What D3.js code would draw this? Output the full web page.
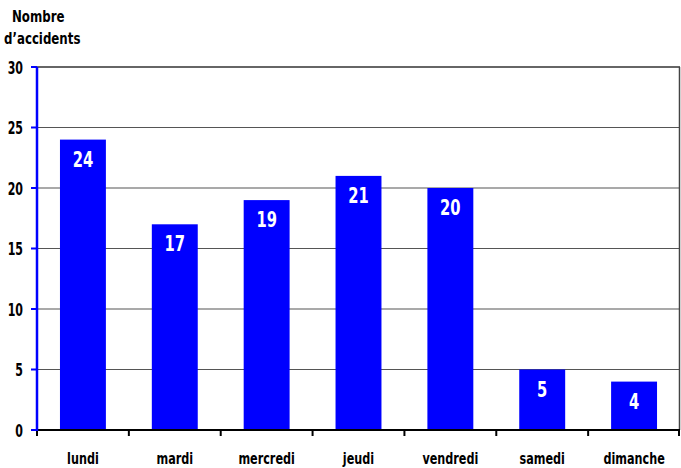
<!DOCTYPE html>
<html><head><meta charset="utf-8">
<script src="https://cdn.jsdelivr.net/npm/d3@7"></script>
<style>
body{margin:0;background:#fff;}
text{font-family:"DejaVu Sans Condensed","DejaVu Sans",sans-serif;font-weight:bold;}
</style></head>
<body><svg id="c" width="681" height="468"></svg>
<script>
const categories = ["lundi","mardi","mercredi","jeudi","vendredi","samedi","dimanche"];
const values = [24,17,19,21,20,5,4];
const yTicks = [0,5,10,15,20,25,30];
const yTitle = ["Nombre","d\u2019accidents"];

const svg = d3.select("#c");
const m = {l:37, r:680, t:67, b:430};
const x = d3.scaleBand().domain(categories).range([m.l, m.r]).paddingInner(0.5).paddingOuter(0.25);
const xb = d3.scaleBand().domain(categories).range([m.l, m.r]);
const y = d3.scaleLinear().domain([0,30]).range([m.b, m.t]);
const blue = "#0000ff";
const tr = (px,py,s)=>`translate(${px},${py}) scale(${s},1)`;

// gridlines
svg.append("g").selectAll("line").data(yTicks.filter(d=>d>0)).join("line")
  .attr("x1", m.l).attr("x2", m.r).attr("y1", d=>y(d)).attr("y2", d=>y(d))
  .attr("stroke",d=>d===30?"#333":"#555").attr("stroke-width",d=>d===30?1.6:1.2);
// right border
svg.append("line").attr("x1",m.r-0.5).attr("x2",m.r-0.5).attr("y1",m.t).attr("y2",m.b)
  .attr("stroke","#444").attr("stroke-width",1.5);

// bars
svg.append("g").selectAll("rect").data(values).join("rect")
  .attr("x",(d,i)=>x(categories[i])).attr("width",x.bandwidth())
  .attr("y",d=>y(d)).attr("height",d=>m.b-y(d)).attr("fill",blue);

// value labels
svg.append("g").selectAll("text").data(values).join("text")
  .attr("transform",(d,i)=>tr(x(categories[i])+x.bandwidth()/2, y(d)+27, 0.78))
  .attr("text-anchor","middle").attr("fill","#fff").attr("font-size",21)
  .text(d=>d);

// x axis
const xAxis = svg.append("g");
xAxis.append("line").attr("x1",m.l).attr("x2",m.r).attr("y1",m.b).attr("y2",m.b)
  .attr("stroke","#000").attr("stroke-width",2);
const bounds = categories.map(c=>xb(c)).concat([m.r]);
xAxis.selectAll("line.t").data(bounds).join("line").attr("class","t")
  .attr("x1",d=>Math.min(d,m.r-1)).attr("x2",d=>Math.min(d,m.r-1)).attr("y1",m.b).attr("y2",m.b+6)
  .attr("stroke","#000").attr("stroke-width",2);
xAxis.selectAll("text").data(categories).join("text")
  .attr("transform",d=>tr(xb(d)+xb.bandwidth()/2, 464, 0.78))
  .attr("text-anchor","middle").attr("font-size",16).attr("fill","#000").text(d=>d);

// y axis
const yAxis = svg.append("g");
yAxis.append("line").attr("x1",m.l).attr("x2",m.l).attr("y1",m.t).attr("y2",m.b+1)
  .attr("stroke",blue).attr("stroke-width",2.5);
yAxis.selectAll("line.t").data(yTicks).join("line").attr("class","t")
  .attr("x1",31).attr("x2",m.l).attr("y1",d=>y(d)).attr("y2",d=>y(d))
  .attr("stroke",blue).attr("stroke-width",2);
yAxis.selectAll("text").data(yTicks).join("text")
  .attr("transform",d=>tr(23, y(d)+6.5, 0.72))
  .attr("text-anchor","end")
  .attr("font-size",17).attr("fill","#000").text(d=>d);

svg.append("g").selectAll("text").data(yTitle).join("text")
  .attr("transform",(d,i)=>tr(i===0?12:4, 22+i*22, 0.82))
  .attr("font-size",16).attr("fill","#000").text(d=>d);
</script></body></html>
